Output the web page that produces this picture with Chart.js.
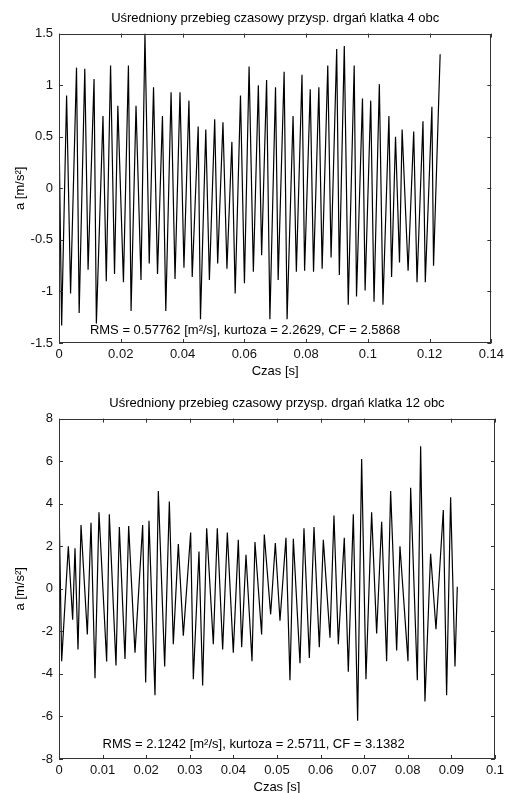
<!DOCTYPE html>
<html>
<head>
<meta charset="utf-8">
<script src="https://cdn.jsdelivr.net/npm/chart.js@4.4.1/dist/chart.umd.min.js"></script>
<style>
  html, body { margin: 0; padding: 0; background: #fff; overflow: hidden; }
  .box { position: absolute; left: 0; width: 508px; }
  #top { top: 0; height: 385px; }
  #bottom { top: 385px; height: 410px; }
</style>
</head>
<body>
<div class="box" id="top"><canvas id="chart1"></canvas></div>
<div class="box" id="bottom"><canvas id="chart2"></canvas></div>
<script>
// klatka 4 obc - czas [s] i przyspieszenie [m/s2] (ekstrema)
const czas1 = [0.00000, 0.00086, 0.00246, 0.00375, 0.00567, 0.00653, 0.00835, 0.00942, 0.01135, 0.01210,
  0.01424, 0.01531, 0.01670, 0.01798, 0.01905, 0.02087, 0.02248, 0.02334, 0.02494, 0.02655,
  0.02783, 0.02922, 0.03061, 0.03190, 0.03350, 0.03458, 0.03629, 0.03757, 0.03918, 0.04046,
  0.04207, 0.04314, 0.04507, 0.04581, 0.04753, 0.04870, 0.05042, 0.05138, 0.05309, 0.05438,
  0.05598, 0.05705, 0.05877, 0.06005, 0.06155, 0.06294, 0.06455, 0.06562, 0.06722, 0.06829,
  0.07011, 0.07097, 0.07290, 0.07386, 0.07579, 0.07686, 0.07868, 0.07953, 0.08135, 0.08242,
  0.08414, 0.08521, 0.08703, 0.08810, 0.08992, 0.09077, 0.09238, 0.09366, 0.09559, 0.09634,
  0.09827, 0.09912, 0.10094, 0.10201, 0.10373, 0.10490, 0.10683, 0.10769, 0.10897, 0.11026,
  0.11111, 0.11304, 0.11486, 0.11593, 0.11786, 0.11861, 0.12075, 0.12128, 0.12342];
const przysp1 = [0.57, -1.33, 0.90, -1.02, 1.17, -1.21, 1.16, -0.79, 1.06, -1.31,
  0.70, -0.90, 1.19, -0.83, 0.80, -0.91, 1.19, -1.19, 0.80, -0.89,
  1.50, -0.73, 0.98, -0.83, 0.70, -1.19, 0.93, -0.88, 0.93, -0.77,
  0.85, -0.86, 0.60, -1.27, 0.57, -0.89, 0.67, -0.73, 0.64, -0.78,
  0.45, -1.02, 0.90, -0.92, 1.18, -0.81, 1.00, -0.65, 1.05, -1.27,
  0.98, -0.89, 1.13, -1.27, 0.70, -0.81, 1.10, -0.80, 0.96, -0.81,
  0.98, -0.78, 1.19, -0.67, 1.35, -0.84, 1.38, -1.13, 1.19, -1.05,
  0.87, -0.99, 0.85, -1.10, 1.01, -1.13, 0.70, -0.86, 0.50, -0.72,
  0.57, -0.80, 0.55, -0.91, 0.65, -0.91, 0.79, -0.75, 1.30];

// klatka 12 obc
const czas2 = [0.00000, 0.00061, 0.00214, 0.00313, 0.00367, 0.00436, 0.00505, 0.00650, 0.00734, 0.00826,
  0.00917, 0.01093, 0.01154, 0.01307, 0.01384, 0.01514, 0.01598, 0.01743, 0.01919, 0.01988,
  0.02064, 0.02202, 0.02278, 0.02424, 0.02531, 0.02622, 0.02737, 0.02852, 0.03020, 0.03081,
  0.03211, 0.03295, 0.03387, 0.03540, 0.03631, 0.03754, 0.03861, 0.03998, 0.04113, 0.04190,
  0.04289, 0.04427, 0.04495, 0.04648, 0.04709, 0.04855, 0.04962, 0.05069, 0.05206, 0.05298,
  0.05375, 0.05528, 0.05619, 0.05742, 0.05849, 0.05971, 0.06063, 0.06216, 0.06307, 0.06407,
  0.06544, 0.06636, 0.06751, 0.06850, 0.06942, 0.07041, 0.07171, 0.07286, 0.07401, 0.07515,
  0.07607, 0.07745, 0.07821, 0.08005, 0.08066, 0.08219, 0.08295, 0.08394, 0.08524, 0.08647,
  0.08815, 0.08891, 0.08983, 0.09083, 0.09136];
const przysp2 = [4.15, -3.4, 2.0, -1.45, 1.9, -2.85, 3.0, -2.15, 3.1, -4.2,
  3.6, -3.42, 3.5, -3.6, 2.9, -3.3, 2.95, -3.0, 3.0, -4.4,
  3.2, -5.0, 4.6, -3.65, 4.1, -2.6, 2.1, -2.2, 2.65, -4.25,
  1.75, -4.55, 2.85, -2.6, 2.85, -2.85, 2.65, -3.0, 2.3, -2.75,
  1.6, -3.4, 2.2, -2.15, 2.55, -1.2, 2.15, -1.5, 2.4, -4.3,
  2.35, -3.5, 2.85, -3.25, 2.9, -2.75, 2.3, -2.3, 3.45, -2.6,
  2.4, -3.9, 3.5, -6.2, 6.1, -4.25, 3.6, -2.1, 3.15, -3.4,
  4.6, -2.9, 2.0, -3.4, 4.75, -4.3, 6.7, -5.3, 1.65, -1.9,
  3.7, -5.0, 4.3, -3.65, 0.1];

const font = 'Liberation Sans, Arial, Helvetica, sans-serif';

// ramka jak w matlabie, ticki do srodka + napis w jednostkach danych
const boxPlugin = {
  id: 'boxTicks',
  afterDraw(chart, args, opts) {
    const ctx = chart.ctx, a = chart.chartArea;
    const xs = chart.scales.x, ys = chart.scales.y;
    ctx.save();
    ctx.strokeStyle = '#333';
    ctx.lineWidth = 1;
    ctx.strokeRect(Math.round(a.left) + 0.5, Math.round(a.top) + 0.5,
      Math.round(a.right - a.left) - 1, Math.round(a.bottom - a.top) - 1);
    ctx.beginPath();
    xs.ticks.forEach(t => {
      const px = Math.round(xs.getPixelForValue(t.value)) + 0.5;
      ctx.moveTo(px, a.bottom); ctx.lineTo(px, a.bottom - 4);
      ctx.moveTo(px, a.top); ctx.lineTo(px, a.top + 4);
    });
    ys.ticks.forEach(t => {
      const py = Math.round(ys.getPixelForValue(t.value)) + 0.5;
      ctx.moveTo(a.left, py); ctx.lineTo(a.left + 4, py);
      ctx.moveTo(a.right, py); ctx.lineTo(a.right - 4, py);
    });
    ctx.stroke();
    ctx.fillStyle = '#000';
    ctx.font = '13px ' + font;
    ctx.textBaseline = 'middle';
    ctx.textAlign = 'left';
    ctx.fillText(opts.text, xs.getPixelForValue(opts.x), ys.getPixelForValue(opts.y));
    ctx.restore();
  }
};

function fmt(v) { return String(Number(v.toFixed(3))); }

function makeChart(id, czas, przysp, cfg) {
  const pts = czas.map((t, i) => ({x: t, y: przysp[i]}));
  return new Chart(document.getElementById(id), {
    type: 'line',
    data: {
      datasets: [{
        data: pts,
        borderColor: '#000',
        borderWidth: 1.2,
        pointRadius: 0,
        tension: 0,
        fill: false
      }]
    },
    plugins: [boxPlugin],
    options: {
      responsive: true,
      maintainAspectRatio: false,
      animation: false,
      layout: { padding: { left: 0, right: 13, top: 0, bottom: 0 } },
      plugins: {
        legend: { display: false },
        tooltip: { enabled: false },
        title: {
          display: true,
          fullSize: false,
          text: cfg.title,
          color: '#000',
          font: { family: font, size: 13, weight: 'normal' },
          padding: { top: 11, bottom: 7 }
        },
        boxTicks: { text: cfg.note, x: cfg.noteX, y: cfg.noteY }
      },
      scales: {
        x: {
          type: 'linear',
          min: 0, max: cfg.xMax,
          afterFit(s) { s.height = cfg.xH; },
          grid: { display: false, drawTicks: false },
          border: { display: false },
          ticks: {
            stepSize: cfg.xStep, autoSkip: false, maxRotation: 0, padding: 4,
            color: '#111', font: { family: font, size: 13 },
            callback: v => fmt(v)
          },
          title: {
            display: true, text: 'Czas [s]', color: '#000',
            font: { family: font, size: 13 }, padding: { top: 0, bottom: cfg.xTitlePad }
          }
        },
        y: {
          min: -cfg.yMax, max: cfg.yMax,
          afterFit(s) { s.width = 59; },
          grid: { display: false, drawTicks: false },
          border: { display: false },
          ticks: {
            stepSize: cfg.yStep, padding: 6,
            color: '#111', font: { family: font, size: 13 },
            callback: v => fmt(v)
          },
          title: {
            display: true, text: 'a [m/s²]', color: '#000',
            font: { family: font, size: 13 }, padding: { top: 13, bottom: 0 }
          }
        }
      }
    }
  });
}

makeChart('chart1', czas1, przysp1, {
  title: 'Uśredniony przebieg czasowy przysp. drgań klatka 4 obc',
  note: 'RMS = 0.57762 [m²/s], kurtoza = 2.2629, CF = 2.5868',
  noteX: 0.01, noteY: -1.375,
  xMax: 0.14, xStep: 0.02, yMax: 1.5, yStep: 0.5, xH: 42, xTitlePad: 6
});

makeChart('chart2', czas2, przysp2, {
  title: 'Uśredniony przebieg czasowy przysp. drgań klatka 12 obc',
  note: 'RMS = 2.1242 [m²/s], kurtoza = 2.5711, CF = 3.1382',
  noteX: 0.01, noteY: -7.3,
  xMax: 0.1, xStep: 0.01, yMax: 8, yStep: 2, xH: 36, xTitlePad: 0
});
</script>
</body>
</html>
